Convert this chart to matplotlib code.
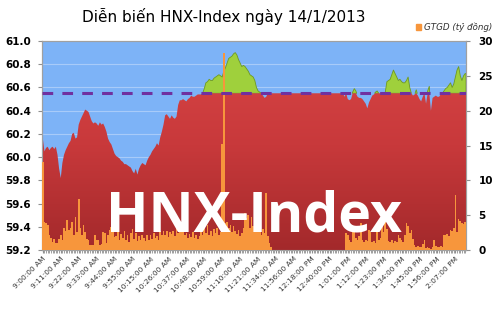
import numpy as np
import matplotlib
matplotlib.use("Agg")
import matplotlib.pyplot as plt
from matplotlib.colors import LinearSegmentedColormap
from matplotlib.ticker import MultipleLocator

# HNX-Index, one value per tick (lunch break kept flat)
index_values = [
    60.16, 60.05, 60.08, 60.09, 60.06, 60.08, 60.09, 60.07, 60.09, 60.02,
    59.90, 59.82, 59.95, 60.02, 60.06, 60.09, 60.12, 60.14, 60.20, 60.21,
    60.16, 60.17, 60.28, 60.32, 60.35, 60.38, 60.41, 60.40, 60.39, 60.35,
    60.31, 60.29, 60.30, 60.29, 60.27, 60.30, 60.28, 60.29, 60.26, 60.22,
    60.16, 60.13, 60.11, 60.07, 60.03, 60.01, 60.00, 59.99, 59.97, 59.96,
    59.94, 59.94, 59.93, 59.92, 59.91, 59.88, 59.86, 59.90, 59.85, 59.90,
    59.93, 59.95, 59.94, 59.93, 59.97, 60.00, 60.02, 60.05, 60.07, 60.09,
    60.12, 60.10, 60.17, 60.22, 60.28, 60.36, 60.37, 60.35, 60.33, 60.36,
    60.34, 60.33, 60.35, 60.45, 60.49, 60.49, 60.50, 60.49, 60.48, 60.50,
    60.51, 60.53, 60.52, 60.52, 60.53, 60.54, 60.54, 60.54, 60.55, 60.59,
    60.64, 60.65, 60.67, 60.66, 60.66, 60.68, 60.69, 60.70, 60.71, 60.70,
    60.69, 60.74, 60.77, 60.81, 60.85, 60.86, 60.87, 60.89, 60.90, 60.88,
    60.84, 60.81, 60.78, 60.79, 60.78, 60.76, 60.74, 60.71, 60.70, 60.69,
    60.66, 60.60, 60.57, 60.56, 60.55, 60.53, 60.51, 60.52, 60.55, 60.55,
    60.55, 60.55, 60.55, 60.55, 60.55, 60.55, 60.55, 60.55, 60.55, 60.55,
    60.55, 60.55, 60.55, 60.55, 60.55, 60.55, 60.55, 60.55, 60.55, 60.55,
    60.55, 60.55, 60.55, 60.55, 60.55, 60.55, 60.55, 60.55, 60.55, 60.55,
    60.55, 60.55, 60.55, 60.55, 60.55, 60.55, 60.55, 60.55, 60.55, 60.55,
    60.55, 60.55, 60.55, 60.55, 60.55,
    60.52, 60.55, 60.50, 60.49, 60.50, 60.56, 60.59, 60.57, 60.52, 60.51,
    60.51, 60.50, 60.48, 60.46, 60.42, 60.47, 60.50, 60.53, 60.54, 60.56,
    60.57, 60.55, 60.55, 60.55, 60.55, 60.56, 60.65, 60.66, 60.67, 60.71,
    60.75, 60.72, 60.69, 60.66, 60.67, 60.65, 60.64, 60.64, 60.66, 60.69,
    60.60, 60.55, 60.53, 60.54, 60.58, 60.53, 60.50, 60.48, 60.52, 60.55,
    60.46, 60.57, 60.61, 60.40, 60.51, 60.52, 60.53, 60.52, 60.52, 60.54,
    60.55, 60.57, 60.59, 60.60, 60.62, 60.64, 60.60, 60.63, 60.69, 60.75,
    60.78, 60.70, 60.66, 60.70, 60.72,
]

# GTGD (ty dong) per tick
volume_values = [
    12.7, 4.1, 3.9, 3.6, 2.2, 1.7, 1.2, 1.6, 1.0, 1.0,
    1.6, 2.1, 1.4, 3.1, 2.8, 4.3, 2.9, 3.2, 4.0, 2.2,
    4.8, 2.6, 7.4, 3.1, 2.2, 3.6, 2.6, 1.6, 1.5, 0.7,
    0.8, 0.7, 2.2, 1.5, 1.4, 0.8, 0.9, 2.6, 2.4, 1.0,
    2.2, 2.9, 3.3, 3.1, 1.9, 2.0, 2.6, 1.5, 2.3, 1.8,
    2.8, 1.4, 2.1, 1.2, 2.4, 3.0, 1.6, 2.5, 1.3, 2.0,
    1.4, 2.2, 1.7, 1.3, 2.1, 1.5, 2.2, 1.6, 2.4, 1.8,
    2.0, 1.4, 2.7, 2.1, 2.8, 2.2, 2.7, 1.9, 2.6, 2.3,
    2.7, 2.0, 3.6, 2.4, 3.5, 2.6, 3.3, 2.1, 2.4, 1.8,
    2.3, 1.9, 2.6, 1.7, 2.2, 1.6, 2.0, 2.9, 2.1, 3.3,
    2.5, 3.6, 2.2, 2.8, 2.0, 3.0, 2.4, 3.2, 2.1, 2.6,
    15.2, 28.3, 3.9, 4.0, 3.1, 3.6, 2.6, 3.4, 2.8, 2.3,
    2.9, 2.0, 2.4, 3.1, 5.3, 4.6, 5.1, 3.2, 4.8, 3.4,
    3.0, 2.6, 3.2, 2.7, 2.2, 3.0, 2.4, 8.2, 2.0, 1.0,
    0.4, 0, 0, 0, 0, 0, 0, 0, 0, 0,
    0, 0, 0, 0, 0, 0, 0, 0, 0, 0,
    0, 0, 0, 0, 0, 0, 0, 0, 0, 0,
    0, 0, 0, 0, 0, 0, 0, 0, 0, 0,
    0, 0, 0, 0, 0, 0,
    2.4, 2.1, 1.4, 1.2, 2.9, 2.6, 1.8, 1.5, 2.0, 3.9,
    1.4, 1.2, 1.5, 1.3, 2.9, 2.6, 1.1, 1.3, 1.0, 3.2,
    1.5, 1.7, 3.9, 2.6, 4.4, 3.0, 1.3, 1.2, 1.4, 1.0,
    1.3, 1.1, 2.1, 1.8, 1.4, 1.2, 2.2, 3.9, 3.5, 2.4,
    2.9, 1.6, 0.8, 0.5, 0.6, 0.4, 0.5, 0.9, 1.4, 0.3,
    0.4, 0.3, 0.2, 0.4, 1.4, 0.6, 0.5, 0.4, 0.6, 0.5,
    2.2, 2.1, 2.3, 2.0, 2.9, 2.8, 3.2, 7.9, 2.6, 4.4,
    4.2, 3.9, 3.8, 4.1,
]

time_labels = [
    "9:00:00 AM", "9:11:00 AM", "9:22:00 AM", "9:33:00 AM", "9:44:00 AM",
    "9:55:00 AM", "10:15:00 AM", "10:26:00 AM", "10:37:00 AM", "10:48:00 AM",
    "10:59:00 AM", "11:10:00 AM", "11:21:00 AM", "11:34:00 AM", "11:56:00 AM",
    "12:18:00 PM", "12:40:00 PM", "1:01:00 PM", "1:12:00 PM", "1:23:00 PM",
    "1:34:00 PM", "1:45:00 PM", "1:56:00 PM", "2:07:00 PM",
]
label_step = 11
reference = 60.55

idx = np.array(index_values)
vol = np.array(volume_values)
n = len(idx)
x = np.arange(n)
ymin, ymax = 59.2, 61.0

fig = plt.figure(figsize=(5, 3.13), dpi=100)
ax = fig.add_axes([0.084, 0.201, 0.848, 0.668])
ax.set_facecolor("#7db3f7")

# extend the area to the plot edges
xe = np.concatenate([[-0.5], x, [n - 0.5]])
ye = np.concatenate([[idx[0]], idx, [idx[-1]]])

# green part above the reference
ax.fill_between(xe, reference, ye, where=ye > reference, interpolate=True,
                facecolor="#9fd03c", edgecolor="#6f9a20", linewidth=0.6, zorder=2)

# red part with a vertical gradient
red = ax.fill_between(xe, ymin, np.minimum(ye, reference), facecolor="none",
                      edgecolor="none", zorder=3)
grad = np.linspace(0, 1, 256).reshape(-1, 1)
cmap = LinearSegmentedColormap.from_list("red", ["#a3292b", "#c8393b", "#d94646"])
im = ax.imshow(grad, extent=[-0.5, n - 0.5, ymin, ymax], origin="lower",
               aspect="auto", cmap=cmap, zorder=3)
im.set_clip_path(red.get_paths()[0], transform=ax.transData)

ax.set_xlim(-0.5, n - 0.5)
ax.set_ylim(ymin, ymax)
ax.yaxis.set_major_locator(MultipleLocator(0.2))
ax.yaxis.grid(True, color="#a8cbf9", linewidth=0.8, zorder=1)
ax.set_axisbelow(True)
ax.set_yticklabels([f"{v:.1f}" for v in ax.get_yticks()])
ax.tick_params(axis="y", length=3, color="#909090", pad=5, labelsize=7.5)
for t in ax.get_yticklabels():
    t.set_fontweight("bold")

ax.set_xticks(x[::label_step])
ax.set_xticklabels(time_labels, rotation=45, ha="right", rotation_mode="anchor",
                   fontsize=5.3, color="#333333")
ax.set_xticks(x, minor=True)
ax.tick_params(axis="x", which="both", length=2, color="#909090", pad=2)

# volume bars on the right axis
ax2 = ax.twinx()
ax2.bar(x, vol, width=1.0, color="#f7963c", linewidth=0, zorder=4)
ax2.set_ylim(0, 30)
ax2.set_xlim(-0.5, n - 0.5)
ax2.yaxis.set_major_locator(MultipleLocator(5))
ax2.tick_params(axis="y", length=3, color="#909090", pad=6, labelsize=7.5)
for t in ax2.get_yticklabels():
    t.set_fontweight("bold")

# reference line
ax2.plot([-0.5, n - 0.5], [reference, reference], transform=ax.transData,
         color="#7030a0", linewidth=2.2, dashes=(3.5, 3.0), zorder=5)

for a in (ax, ax2):
    for s in a.spines.values():
        s.set_color("#a0a0a0")
        s.set_linewidth(0.8)

ax2.text(0.501, 0.09, "HNX-Index", transform=ax.transAxes, ha="center",
         va="baseline", fontsize=40, fontweight="bold", color="white",
         family="Open Sans", zorder=10)

fig.text(0.447, 0.93, "Diễn biến HNX-Index ngày 14/1/2013", ha="center",
         va="baseline", fontsize=11, color="black")

fig.patches.append(plt.Rectangle((0.831, 0.905), 0.011, 0.017,
                                 transform=fig.transFigure, color="#f7963c"))
fig.text(0.848, 0.905, "GTGD (tỷ đồng)", fontsize=6.3, style="italic",
         color="#333333", va="baseline")

fig.savefig("out.png", dpi=100)
